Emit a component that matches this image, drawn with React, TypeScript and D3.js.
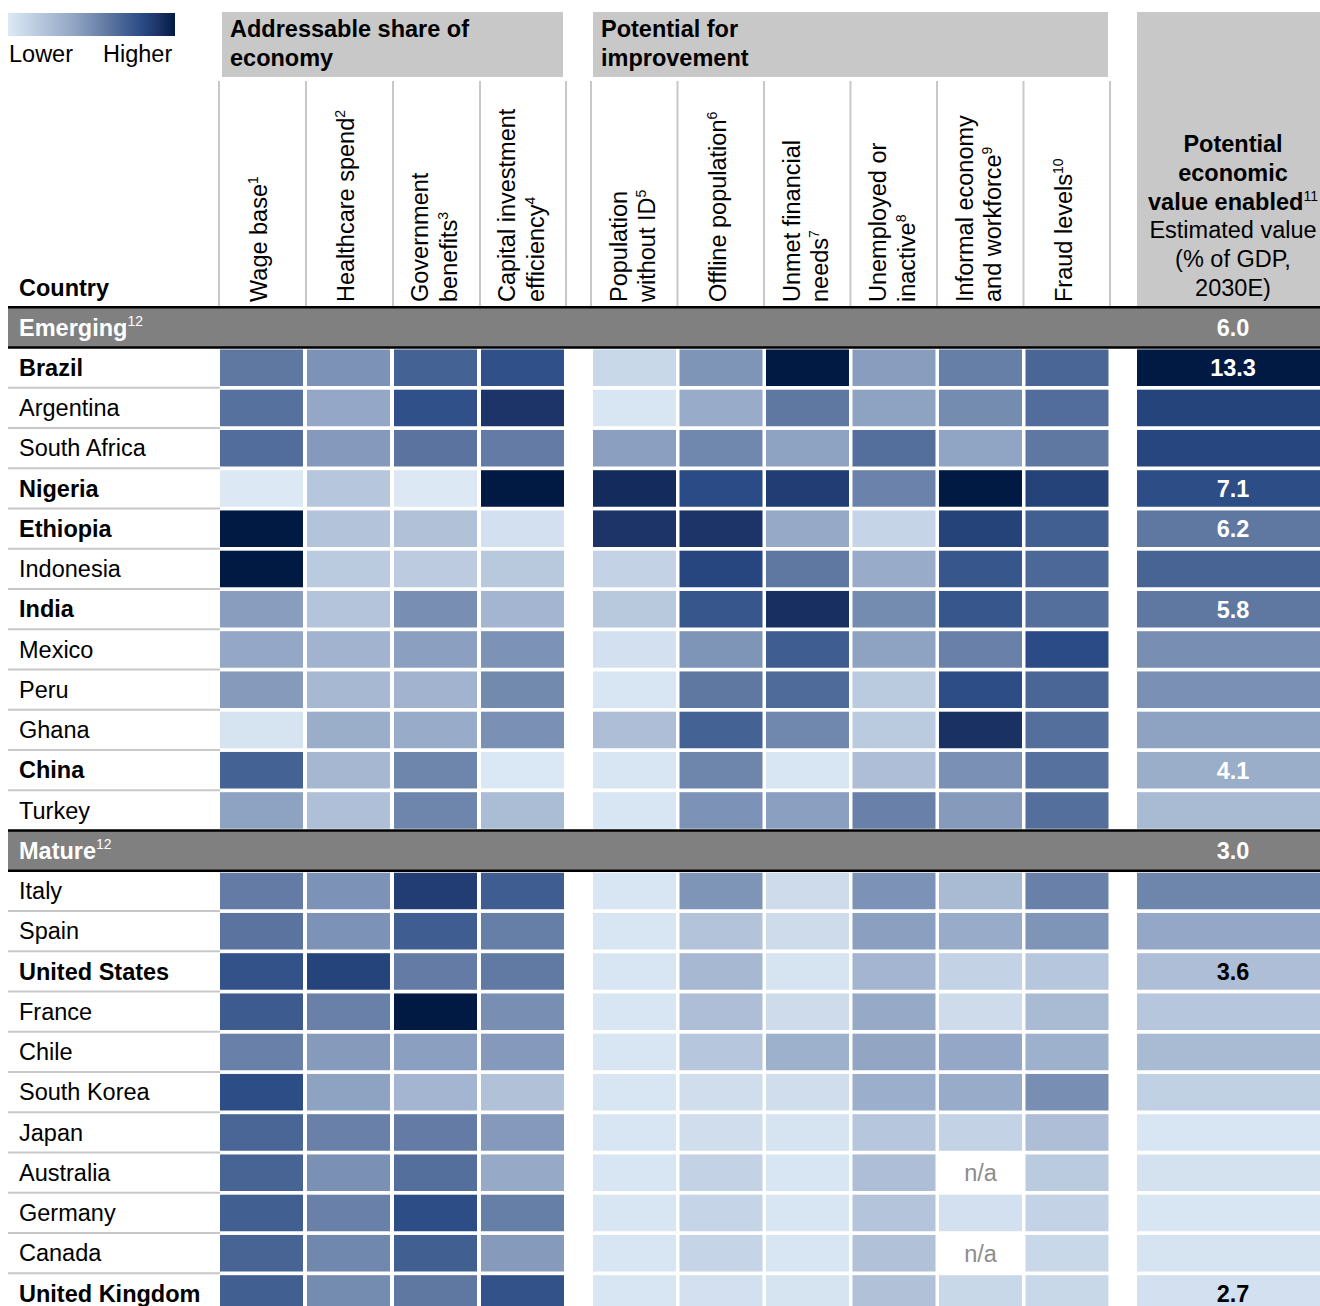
import * as d3 from "d3";

// rows
const emergingCountries = ["Brazil", "Argentina", "South Africa", "Nigeria", "Ethiopia", "Indonesia", "India", "Mexico", "Peru", "Ghana", "China", "Turkey"];
const matureCountries = ["Italy", "Spain", "United States", "France", "Chile", "South Korea", "Japan", "Australia", "Germany", "Canada", "United Kingdom"];
const boldCountries = ["Brazil", "Nigeria", "Ethiopia", "India", "China", "United States", "United Kingdom"];
const groupNames = ["Emerging", "Mature"];
const groupTotals = ["6.0", "3.0"];

// column headers
const sectionTitles = [["Addressable share of", "economy"], ["Potential for", "improvement"]];
const columnLabels = [
  ["Wage base"], ["Healthcare spend"], ["Government", "benefits"], ["Capital investment", "efficiency"],
  ["Population", "without ID"], ["Offline population"], ["Unmet financial", "needs"],
  ["Unemployed or", "inactive"], ["Informal economy", "and workforce"], ["Fraud levels"],
];
const columnNotes = ["1", "2", "3", "4", "5", "6", "7", "8", "9", "10"];

// shade 0 = lower, 1 = higher; emerging rows first, then mature
const wageBase = [0.6, 0.63, 0.65, 0.0, 1.0, 1.0, 0.43, 0.38, 0.44, 0.03, 0.7, 0.41, 0.58, 0.62, 0.77, 0.73, 0.56, 0.79, 0.68, 0.69, 0.71, 0.69, 0.71];
const healthcare = [0.48, 0.38, 0.45, 0.2, 0.22, 0.18, 0.21, 0.31, 0.28, 0.35, 0.29, 0.24, 0.48, 0.48, 0.83, 0.56, 0.44, 0.41, 0.56, 0.49, 0.56, 0.53, 0.51];
const govBenefits = [0.7, 0.78, 0.62, 0.0, 0.23, 0.17, 0.5, 0.42, 0.31, 0.36, 0.54, 0.54, 0.86, 0.72, 0.58, 1.0, 0.42, 0.3, 0.58, 0.64, 0.79, 0.71, 0.6];
const capitalEfficiency = [0.78, 0.9, 0.58, 1.0, 0.05, 0.19, 0.3, 0.48, 0.52, 0.49, 0.01, 0.26, 0.72, 0.57, 0.59, 0.5, 0.45, 0.23, 0.45, 0.37, 0.57, 0.44, 0.77];
const withoutId = [0.1, 0.02, 0.42, 0.93, 0.9, 0.13, 0.19, 0.05, 0.02, 0.25, 0.02, 0.02, 0.02, 0.02, 0.02, 0.02, 0.02, 0.02, 0.02, 0.02, 0.02, 0.02, 0.02];
const offline = [0.47, 0.36, 0.53, 0.8, 0.9, 0.82, 0.75, 0.47, 0.6, 0.7, 0.54, 0.48, 0.47, 0.22, 0.28, 0.25, 0.2, 0.07, 0.07, 0.13, 0.12, 0.12, 0.05];
const unmetFinancial = [1.0, 0.6, 0.41, 0.86, 0.37, 0.6, 0.92, 0.72, 0.66, 0.53, 0.02, 0.42, 0.08, 0.08, 0.03, 0.08, 0.33, 0.07, 0.03, 0.02, 0.02, 0.02, 0.03];
const unemployed = [0.43, 0.41, 0.64, 0.55, 0.12, 0.36, 0.51, 0.41, 0.18, 0.18, 0.25, 0.56, 0.48, 0.42, 0.3, 0.37, 0.39, 0.34, 0.2, 0.25, 0.21, 0.23, 0.23];
const informal = [0.57, 0.51, 0.4, 1.0, 0.84, 0.75, 0.75, 0.56, 0.79, 0.91, 0.49, 0.44, 0.27, 0.36, 0.13, 0.08, 0.38, 0.36, 0.13, null, 0.05, null, 0.1];
const fraud = [0.68, 0.65, 0.6, 0.84, 0.71, 0.67, 0.64, 0.8, 0.68, 0.64, 0.63, 0.64, 0.56, 0.47, 0.2, 0.27, 0.33, 0.5, 0.25, 0.18, 0.13, 0.1, 0.1];
const valueShade = [1.0, 0.83, 0.82, 0.79, 0.6, 0.69, 0.6, 0.5, 0.49, 0.41, 0.35, 0.27, 0.54, 0.38, 0.25, 0.2, 0.27, 0.14, 0.02, 0.04, 0.02, 0.03, 0.05];
const valueLabels = ["13.3", "", "", "7.1", "6.2", "", "5.8", "", "", "", "4.1", "", "", "", "3.6", "", "", "", "", "", "", "", "2.7"];

const columns = [wageBase, healthcare, govBenefits, capitalEfficiency, withoutId, offline, unmetFinancial, unemployed, informal, fraud];

const FONT = "'Liberation Sans', Arial, Helvetica, sans-serif";
const FS = 23.5;
const W = 1320;
const H = 1306;

const color = d3
  .scaleLinear<string>()
  .domain([0, 0.2, 0.4, 0.6, 0.8, 0.9, 1])
  .range(["#dce9f5", "#b6c6dc", "#90a4c3", "#5f78a2", "#2a4b85", "#1d3468", "#001a44"])
  .interpolate(d3.interpolateRgb);

type Row = { kind: "group"; g: number } | { kind: "country"; i: number; name: string };

const rows: Row[] = [
  { kind: "group", g: 0 },
  ...emergingCountries.map((name, i) => ({ kind: "country" as const, i, name })),
  { kind: "group", g: 1 },
  ...matureCountries.map((name, i) => ({ kind: "country" as const, i: i + emergingCountries.length, name })),
];

const App = () => {
  const y = d3
    .scaleBand<number>()
    .domain(d3.range(rows.length))
    .range([307.2, 307.2 + rows.length * 40.25]);
  const step = y.step();

  const xA = d3.scaleBand<number>().domain([0, 1, 2, 3]).range([220, 564]).paddingInner(0.046);
  const xB = d3.scaleBand<number>().domain([4, 5, 6, 7, 8, 9]).range([593, 1108]).paddingInner(0.046);
  const colX = (c: number) => (c < 4 ? xA(c)! : xB(c)!);
  const bw = xA.bandwidth();
  const valX = 1137;
  const valW = 192;
  const valCx = valX + valW / 2;

  const sepLines = [
    ...[0, 1, 2, 3].map((c) => xA(c)! - 1),
    xA(3)! + xA.bandwidth() + 2,
    ...[4, 5, 6, 7, 8, 9].map((c) => xB(c)! - 2),
    xB(9)! + xB.bandwidth() + 2,
  ];

  return (
    <svg
      width={W}
      height={H}
      style={{ position: "absolute", left: 0, top: 0, background: "#fff" }}
      fontFamily={FONT}
    >
      <defs>
        <linearGradient id="legendGrad" x1="0" x2="1" y1="0" y2="0">
          {d3.range(0, 1.01, 0.1).map((t) => (
            <stop key={t} offset={t} stopColor={color(t)} />
          ))}
        </linearGradient>
      </defs>

      {/* legend */}
      <rect x={8} y={13} width={167} height={23} fill="url(#legendGrad)" />
      <text x={9} y={61.5} fontSize={FS}>Lower</text>
      <text x={103} y={61.5} fontSize={FS}>Higher</text>

      {/* section header boxes */}
      <rect x={222} y={12} width={341} height={65} fill="#c8c8c8" />
      <rect x={593} y={12} width={515} height={65} fill="#c8c8c8" />
      {sectionTitles.map((lines, s) =>
        lines.map((ln, j) => (
          <text key={`st${s}${j}`} x={s === 0 ? 230 : 601} y={37 + j * 29} fontSize={FS} fontWeight="bold">
            {ln}
          </text>
        ))
      )}

      {/* value header */}
      <rect x={valX} y={12} width={W - valX} height={296} fill="#c8c8c8" />
      <g textAnchor="middle" fontSize={FS}>
        <text x={valCx} y={152} fontWeight="bold">Potential</text>
        <text x={valCx} y={181} fontWeight="bold">economic</text>
        <text x={valCx} y={210} fontWeight="bold">
          value enabled
          <tspan fontWeight="normal" fontSize={14} dy={-9}>11</tspan>
        </text>
        <text x={valCx} y={238}>Estimated value</text>
        <text x={valCx} y={267}>(% of GDP,</text>
        <text x={valCx} y={296}>2030E)</text>
      </g>

      <text x={19} y={296} fontSize={FS} fontWeight="bold">Country</text>

      {/* header separators */}
      {sepLines.map((x, i) => (
        <line key={`sep${i}`} x1={x} x2={x} y1={81} y2={307} stroke="#c8c8c8" strokeWidth={2} />
      ))}

      {/* rotated column labels */}
      {columnLabels.map((lines, c) => {
        const cx = colX(c) + bw / 2;
        const offs = lines.length === 1 ? [5.5] : [-7.5, 21];
        return lines.map((ln, j) => (
          <text
            key={`cl${c}${j}`}
            transform={`translate(${cx + offs[j]},302) rotate(-90)`}
            fontSize={FS}
          >
            {ln}
            {j === lines.length - 1 && (
              <tspan fontSize={14} dy={-9}>{columnNotes[c]}</tspan>
            )}
          </text>
        ));
      })}

      {/* rows */}
      {rows.map((r, ri) => {
        const top = y(ri)!;
        const cy = top + step / 2;
        if (r.kind === "group") {
          return (
            <g key={`g${ri}`}>
              <rect x={8} y={top} width={W - 8} height={step} fill="#808080" />
              <line x1={8} x2={W} y1={top} y2={top} stroke="#000" strokeWidth={2.5} />
              <line x1={8} x2={W} y1={top + step} y2={top + step} stroke="#000" strokeWidth={2.5} />
              <text x={19} y={cy + 8.5} fontSize={FS} fontWeight="bold" fill="#fff">
                {groupNames[r.g]}
                <tspan fontSize={14} fontWeight="normal" dy={-10}>12</tspan>
              </text>
              <text x={valCx} y={cy + 8.5} fontSize={FS} fontWeight="bold" fill="#fff" textAnchor="middle">
                {groupTotals[r.g]}
              </text>
            </g>
          );
        }
        const nextIsGroup = ri + 1 < rows.length && rows[ri + 1].kind === "group";
        const v = valueShade[r.i];
        return (
          <g key={`r${ri}`}>
            {!nextIsGroup && (
              <line x1={8} x2={220} y1={top + step} y2={top + step} stroke="#c8c8c8" strokeWidth={2} />
            )}
            <text
              x={19}
              y={cy + 8.3}
              fontSize={FS}
              fontWeight={boldCountries.includes(r.name) ? "bold" : "normal"}
            >
              {r.name}
            </text>
            {columns.map((col, c) => {
              const s = col[r.i];
              const x = colX(c);
              if (s === null) {
                return (
                  <text key={c} x={x + bw / 2} y={cy + 8.5} fontSize={FS} fill="#8c8c8c" textAnchor="middle">
                    n/a
                  </text>
                );
              }
              return <rect key={c} x={x} y={top + 2} width={bw} height={step - 3.7} fill={color(s)} />;
            })}
            <rect x={valX} y={top + 2} width={valW} height={step - 3.7} fill={color(v)} />
            {valueLabels[r.i] && (
              <text
                x={valCx}
                y={cy + 8.5}
                fontSize={FS}
                fontWeight="bold"
                textAnchor="middle"
                fill={v > 0.3 ? "#fff" : "#000"}
              >
                {valueLabels[r.i]}
              </text>
            )}
          </g>
        );
      })}
    </svg>
  );
};

export default App;
